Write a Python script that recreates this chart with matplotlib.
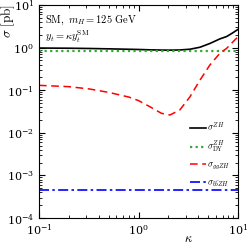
import matplotlib
matplotlib.use("Agg")
import matplotlib.pyplot as plt
import numpy as np

plt.rcParams['mathtext.fontset'] = 'cm'
plt.rcParams['font.family'] = 'serif'
plt.rcParams['font.serif'] = ['DejaVu Serif']

kappa = [0.1, 0.2, 0.32, 0.5, 0.8, 1.0, 1.3, 1.7, 2.07, 2.6, 3.29, 4.15, 5.22, 6.57, 7.69, 8.8, 10.0]
sigma_gg = [0.130, 0.121, 0.107, 0.089, 0.069, 0.057, 0.041, 0.0287, 0.0262, 0.0343, 0.070, 0.173, 0.391, 0.735, 0.96, 1.33, 1.80]
sigma_zh = [0.976, 0.967, 0.953, 0.935, 0.914, 0.903, 0.887, 0.875, 0.872, 0.88, 0.916, 1.02, 1.25, 1.60, 1.82, 2.20, 2.68]
sigma_dy = [0.846] * len(kappa)
sigma_bb = [4.6e-4] * len(kappa)

fig = plt.figure(figsize=(2.49, 2.45), dpi=100)
ax = fig.add_axes([39/249, 1-218/245, 199/249, 213/245])

ax.plot(kappa, sigma_zh, color='black', lw=1.2, label=r'$\sigma^{ZH}$')
ax.plot(kappa, sigma_dy, color='#33aa33', lw=1.6, ls=(0, (1, 1.5)), label=r'$\sigma^{ZH}_{\rm DY}$')
ax.plot(kappa, sigma_gg, color='red', lw=1.1, ls=(0, (5, 3)), label=r'$\sigma_{ggZH}$')
ax.plot(kappa, sigma_bb, color='blue', lw=1.2, ls=(0, (6, 2, 1.5, 2)), label=r'$\sigma_{b\bar{b}ZH}$')

ax.set_xscale('log')
ax.set_yscale('log')
ax.set_xlim(0.1, 10)
ax.set_ylim(1e-4, 10)
ax.tick_params(which='both', direction='in', top=True, right=True, labelsize=8)
ax.tick_params(which='major', length=4)
ax.tick_params(which='minor', length=2)

ax.set_ylabel(r'$\sigma\ [\mathrm{pb}]$', fontsize=9.5)
ax.yaxis.set_label_coords(-0.11, 0.925)
ax.set_xlabel(r'$\kappa$', fontsize=9)
ax.xaxis.set_label_coords(0.75, -0.065)

ax.text(0.03, 0.96, r'$\mathrm{SM},\ m_H=125\ \mathrm{GeV}$', transform=ax.transAxes, fontsize=7.5, va='top', ha='left')
ax.text(0.03, 0.89, r'$y_t=\kappa y_t^{\rm SM}$', transform=ax.transAxes, fontsize=7.5, va='top', ha='left')

leg = ax.legend(loc='lower right', bbox_to_anchor=(1.0, 0.10), frameon=False, fontsize=6.5,
                handlelength=1.8, handletextpad=0.1, labelspacing=0.65)

fig.savefig('out.png', dpi=100)
